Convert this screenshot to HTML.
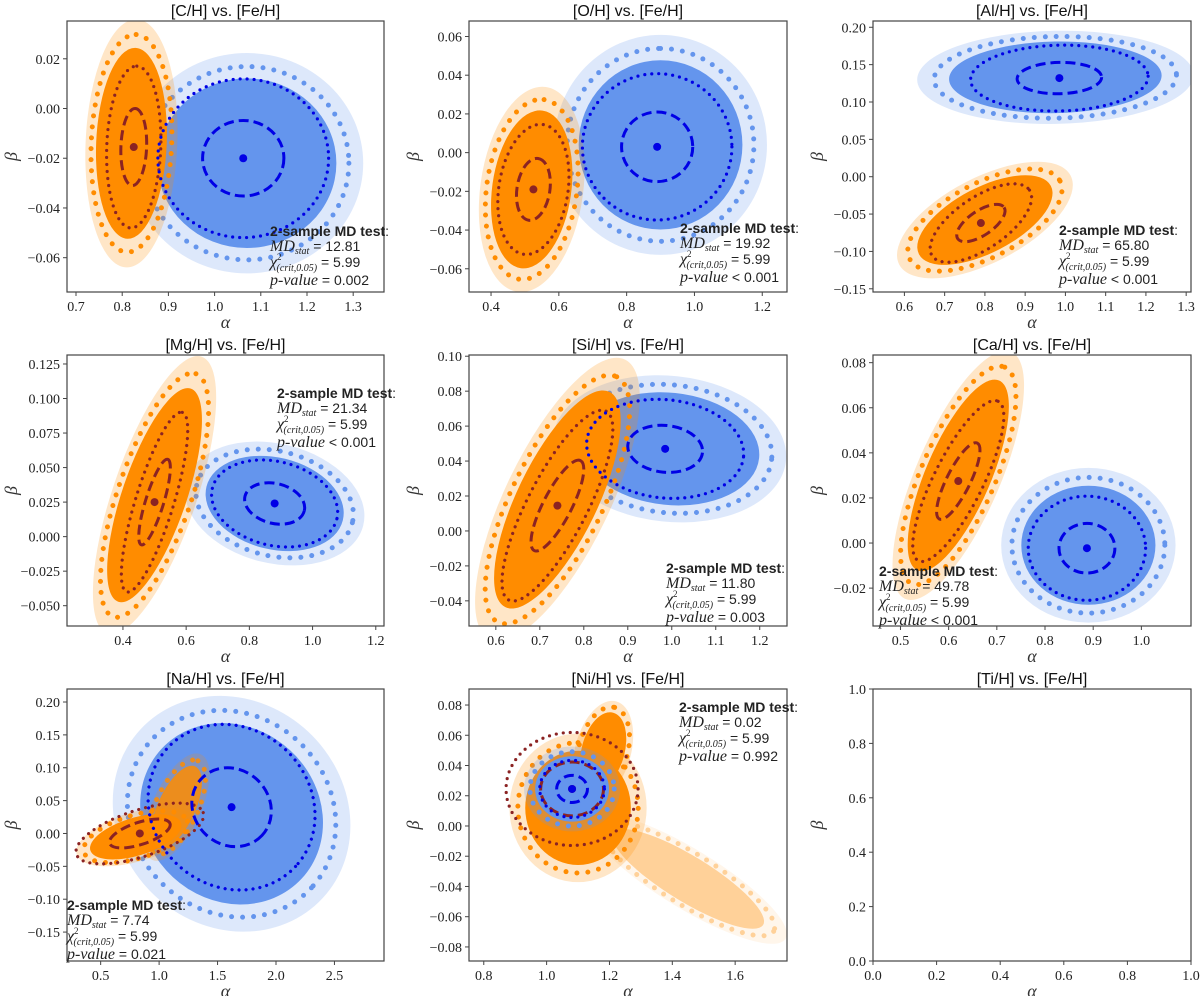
<!DOCTYPE html>
<html><head><meta charset="utf-8">
<style>
html,body{margin:0;padding:0;background:#fff;}
svg{display:block;}
.tick{font-family:"Liberation Serif",serif;font-size:14px;fill:#222;}
.ttl{font-family:"Liberation Sans",sans-serif;font-size:16px;fill:#111;}
.ax{font-family:"Liberation Serif",serif;font-size:18px;font-style:italic;fill:#333;}
.ann{font-family:"Liberation Sans",sans-serif;font-size:14px;fill:#222;}
</style></head>
<body>
<svg id="fig" width="1200" height="996" viewBox="0 0 1200 996" xmlns="http://www.w3.org/2000/svg"></svg>
<script>
const titles = ["[C/H] vs.  [Fe/H]","[O/H] vs.  [Fe/H]","[Al/H] vs.  [Fe/H]","[Mg/H] vs.  [Fe/H]","[Si/H] vs.  [Fe/H]","[Ca/H] vs.  [Fe/H]","[Na/H] vs.  [Fe/H]","[Ni/H] vs.  [Fe/H]","[Ti/H] vs.  [Fe/H]"];
const xDomains = [[0.6805,1.3667],[0.335,1.273],[0.522,1.312],[0.223,1.226],[0.539,1.262],[0.443,1.103],[0.212,2.924],[0.753,1.765],[0,1]];
const yDomains = [[-0.0738,0.0352],[-0.072,0.068],[-0.1543,0.2084],[-0.0647,0.1315],[-0.0544,0.1007],[-0.0368,0.0834],[-0.194,0.2198],[-0.0893,0.0906],[0,1]];
const xTicks = [[0.7,0.8,0.9,1.0,1.1,1.2,1.3],[0.4,0.6,0.8,1.0,1.2],[0.6,0.7,0.8,0.9,1.0,1.1,1.2,1.3],[0.4,0.6,0.8,1.0,1.2],[0.6,0.7,0.8,0.9,1.0,1.1,1.2],[0.5,0.6,0.7,0.8,0.9,1.0],[0.5,1.0,1.5,2.0,2.5],[0.8,1.0,1.2,1.4,1.6],[0,0.2,0.4,0.6,0.8,1.0]];
const yTicks = [[-0.06,-0.04,-0.02,0,0.02],[-0.06,-0.04,-0.02,0,0.02,0.04,0.06],[-0.15,-0.10,-0.05,0,0.05,0.10,0.15,0.20],[-0.05,-0.025,0,0.025,0.05,0.075,0.1,0.125],[-0.04,-0.02,0,0.02,0.04,0.06,0.08,0.10],[-0.02,0,0.02,0.04,0.06,0.08],[-0.15,-0.10,-0.05,0,0.05,0.10,0.15,0.20],[-0.08,-0.06,-0.04,-0.02,0,0.02,0.04,0.06,0.08],[0,0.2,0.4,0.6,0.8,1.0]];
const yTickDec = [2,2,2,3,2,2,2,2,1];
const xTickDec = [1,1,1,1,1,1,1,1,1];
// ellipse stats: [meanX, meanY, sdX, sdY, rho]
const blueEll = [[1.062,-0.02,0.088,0.0152,0],[0.89,0.003,0.105,0.018,0],[0.985,0.132,0.105,0.021,0.05],[0.88,0.024,0.095,0.015,-0.2],[0.985,0.047,0.085,0.0135,-0.1],[0.887,-0.0023,0.058,0.011,0],[1.62,0.04,0.34,0.06,-0.1],[1.081,0.0245,0.049,0.009,0],null];
const orangeEll = [[0.825,-0.0155,0.028,0.0155,0.1],[0.525,-0.019,0.05,0.016,0.2],[0.79,-0.062,0.06,0.025,0.65],[0.5,0.025,0.05,0.031,0.8],[0.74,0.0145,0.06,0.026,0.8],[0.62,0.0275,0.045,0.017,0.8],[0.835,0.0,0.26,0.022,0.6],[1.081,0.0245,0.1,0.0178,0],null];
// cloud blobs: [meanX, meanY, sdX, sdY, rho, extent, opacity]
const blueClouds = [[[1.07,-0.022,0.088,0.0155,0,2.2,1]],[[0.9,0.004,0.105,0.019,0,2.3,1]],[[0.975,0.133,0.11,0.02,0.05,2.4,1]],[[0.88,0.024,0.095,0.015,-0.2,2.3,1]],[[0.995,0.047,0.085,0.0135,-0.1,2.4,1]],[[0.89,-0.001,0.058,0.011,0,2.4,1]],[[1.62,0.03,0.34,0.06,-0.1,2.3,1]],[[1.081,0.0245,0.049,0.009,0,2.4,1]],[]];
const orangeClouds = [[[0.82,-0.014,0.032,0.016,0.1,2.4,1]],[[0.52,-0.019,0.05,0.017,0.2,2.4,1]],[[0.8,-0.058,0.07,0.025,0.6,2.4,1]],[[0.5,0.03,0.06,0.031,0.7,2.5,1]],[[0.74,0.018,0.06,0.026,0.72,2.4,1]],[[0.62,0.03,0.042,0.017,0.72,2.5,1]],[[0.8,-0.005,0.17,0.015,0.5,2.3,1],[1.15,0.04,0.12,0.035,0.6,1.8,0.85]],[[1.1,0.012,0.08,0.018,0,2.1,1],[1.18,0.05,0.035,0.012,0.3,2.1,1],[1.45,-0.035,0.11,0.015,-0.85,2.2,0.35]],[]];
const blueOnTop = [false,false,false,false,false,false,false,true,false];
const mdStat = ["12.81","19.92","65.80","21.34","11.80","49.78","7.74","0.02",null];
const pValue = ["= 0.002","< 0.001","< 0.001","< 0.001","= 0.003","< 0.001","= 0.021","= 0.992",null];
const annPos = [[270,231],[680,228],[1059,230],[277,393],[666,568],[879,571],[67,905],[679,707],null];

const colL=[67,469,873], colR=[384,787,1191], rowT=[21,355,689], rowB=[292,626,961];
const NS="http://www.w3.org/2000/svg";
const svg=document.getElementById('fig');
function mk(tag,attrs,parent){const e=document.createElementNS(NS,tag);for(const k in attrs)e.setAttribute(k,attrs[k]);(parent||svg).appendChild(e);return e;}
function fmt(v,d){const s=Math.abs(v).toFixed(d);return (v<-1e-9?"\u2212":"")+s;}

function ellipseAttrs(sx,sy,st,k){
  const px=st[2]*k*sx, py=st[3]*k*sy;
  const a=px*px, d=py*py, b=-st[4]*px*py;
  const T=(a+d)/2, D=Math.sqrt(((a-d)/2)**2+b*b);
  const ang=0.5*Math.atan2(2*b,a-d)*180/Math.PI;
  return {rx:Math.sqrt(T+D), ry:Math.sqrt(Math.max(T-D,0.01)), ang};
}

for(let p=0;p<9;p++){
  const c=p%3, r=Math.floor(p/3);
  const L=colL[c],R=colR[c],T=rowT[r],B=rowB[r];
  const xd=xDomains[p], yd=yDomains[p];
  const X=v=>L+(v-xd[0])/(xd[1]-xd[0])*(R-L);
  const Y=v=>B-(v-yd[0])/(yd[1]-yd[0])*(B-T);
  const sx=(R-L)/(xd[1]-xd[0]), sy=(B-T)/(yd[1]-yd[0]);
  const g=mk('g',{});
  
  
  const cid='clip'+p;
  const cp=mk('clipPath',{id:cid},g); mk('rect',{x:L,y:T,width:R-L,height:B-T},cp);
  const plot=mk('g',{'clip-path':'url(#'+cid+')'},g);

  function drawClouds(list,color,nm){
    list.forEach((bl,i)=>{
      const cx=X(bl[0]),cy=Y(bl[1]);
      const e1=ellipseAttrs(sx,sy,bl,bl[5]*1.3);
      const halo=mk('ellipse',{cx,cy,rx:e1.rx,ry:e1.ry,transform:`rotate(${e1.ang} ${cx} ${cy})`,fill:color,opacity:0.22*bl[6]},plot);
      
      
      const e3=ellipseAttrs(sx,sy,bl,bl[5]*1.14);
      const sp=mk('ellipse',{cx,cy,rx:e3.rx,ry:e3.ry,transform:`rotate(${e3.ang} ${cx} ${cy})`,fill:'none',stroke:color,'stroke-width':5,'stroke-dasharray':'0 11','stroke-linecap':'round',opacity:bl[6]},plot);
      
      
      const e2=ellipseAttrs(sx,sy,bl,bl[5]);
      const core=mk('ellipse',{cx,cy,rx:e2.rx,ry:e2.ry,transform:`rotate(${e2.ang} ${cx} ${cy})`,fill:color,opacity:bl[6]},plot);
      
      
    });
  }
  function drawEll(st,color,nm){
    if(!st) return;
    const cx=X(st[0]),cy=Y(st[1]);
    const e1=ellipseAttrs(sx,sy,st,1), e2=ellipseAttrs(sx,sy,st,2.1);
    const dot=mk('ellipse',{cx,cy,rx:e2.rx,ry:e2.ry,transform:`rotate(${e2.ang} ${cx} ${cy})`,fill:'none',stroke:color,'stroke-width':3.2,'stroke-dasharray':'0 7','stroke-linecap':'round'},plot);
    
    
    const das=mk('ellipse',{cx,cy,rx:e1.rx,ry:e1.ry,transform:`rotate(${e1.ang} ${cx} ${cy})`,fill:'none',stroke:color,'stroke-width':3,'stroke-dasharray':'10 5'},plot);
    
    
    const m=mk('circle',{cx,cy,r:4,fill:color},plot);
    
    
  }
  if(blueOnTop[p]){drawClouds(orangeClouds[p],'#ff8c00','orange');drawClouds(blueClouds[p],'#6495ed','blue');}
  else{drawClouds(blueClouds[p],'#6495ed','blue');drawClouds(orangeClouds[p],'#ff8c00','orange');}
  drawEll(orangeEll[p],'#8b2323','orange');
  drawEll(blueEll[p],'#0000e6','blue');

  const fr=mk('rect',{x:L,y:T,width:R-L,height:B-T,fill:'none',stroke:'#444','stroke-width':1.2},g);
  
  

  xTicks[p].forEach(v=>{
    const x=X(v);
    mk('line',{x1:x,x2:x,y1:B,y2:B+4,stroke:'#444'},g);
    const t=mk('text',{x:x,y:B+19,'text-anchor':'middle',class:'tick'},g);
    t.textContent=fmt(v,xTickDec[p]);
    
    
  });
  yTicks[p].forEach(v=>{
    const y=Y(v);
    mk('line',{x1:L-4,x2:L,y1:y,y2:y,stroke:'#444'},g);
    const t=mk('text',{x:L-7,y:y+5,'text-anchor':'end',class:'tick'},g);
    t.textContent=fmt(v,yTickDec[p]);
    
    
  });
  const tt=mk('text',{x:(L+R)/2,y:T-5,'text-anchor':'middle',class:'ttl'},g);
  tt.textContent=titles[p];
  
  
  const xl=mk('text',{x:(L+R)/2,y:B+36,'text-anchor':'middle',class:'ax'},g);
  xl.textContent='\u03B1';
  
  
  const yx=L-50, yy=(T+B)/2;
  const yl=mk('text',{x:yx,y:yy,'text-anchor':'middle',class:'ax',transform:`rotate(-90 ${yx} ${yy})`},g);
  yl.textContent='\u03B2';
  
  

  if(mdStat[p]){
    const ax=annPos[p][0], ay=annPos[p][1]+5;
    const a=mk('g',{class:'ann'},g);
    
    
    const l1=mk('text',{x:ax,y:ay,'font-weight':'bold',class:'ann'},a);
    l1.textContent='2-sample MD test';
    const c1=mk('tspan',{'font-weight':'normal'},l1); c1.textContent=':';
    const l2=mk('text',{x:ax,y:ay+15,class:'ann'},a);
    let s=mk('tspan',{'font-family':'Liberation Serif, serif','font-style':'italic','font-size':'16'},l2); s.textContent='MD';
    s=mk('tspan',{'font-family':'Liberation Serif, serif','font-style':'italic','font-size':'10',dy:3},l2); s.textContent='stat';
    s=mk('tspan',{dy:-3},l2); s.textContent=' = '+mdStat[p];
    const l3=mk('text',{x:ax,y:ay+31,class:'ann'},a);
    s=mk('tspan',{'font-family':'Liberation Serif, serif','font-style':'italic','font-size':'16'},l3); s.textContent='\u03C7';
    s=mk('tspan',{'font-family':'Liberation Serif, serif','font-size':'9',dy:-7},l3); s.textContent='2';
    s=mk('tspan',{'font-family':'Liberation Serif, serif','font-style':'italic','font-size':'10',dx:-5,dy:11},l3); s.textContent='(crit,0.05)';
    s=mk('tspan',{dy:-4},l3); s.textContent=' = 5.99';
    const l4=mk('text',{x:ax,y:ay+49,class:'ann'},a);
    s=mk('tspan',{'font-family':'Liberation Serif, serif','font-style':'italic','font-size':'16'},l4); s.textContent='p-value';
    s=mk('tspan',{},l4); s.textContent=' '+pValue[p];
  }
}
</script>
</body></html>
